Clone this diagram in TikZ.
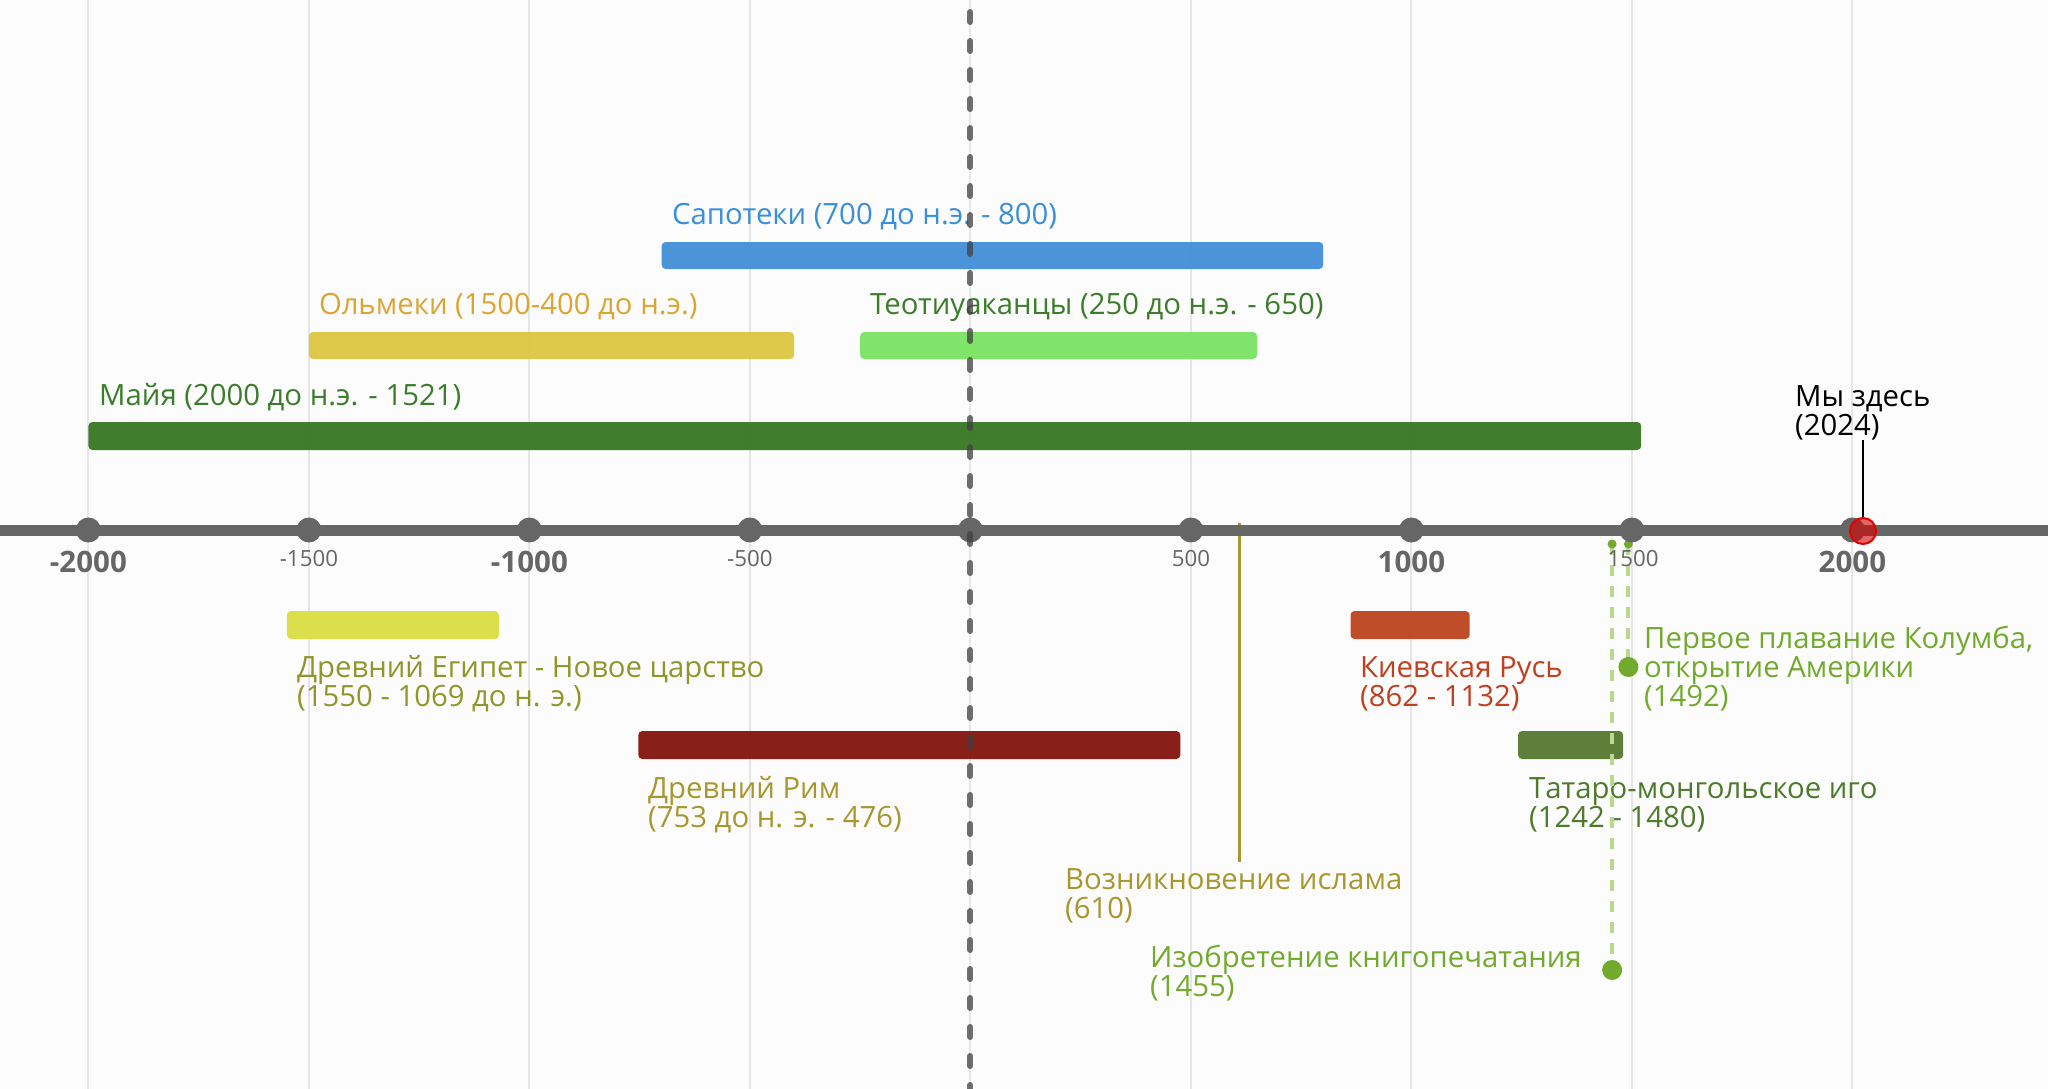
\documentclass[tikz,border=0pt]{standalone}
\usepackage{fontspec}
\setmainfont{Open Sans}
\definecolor{bgc}{HTML}{FCFCFC}
\definecolor{gridc}{HTML}{E6E6E6}
\definecolor{axisc}{HTML}{666666}
\definecolor{zapb}{HTML}{4791D8}\definecolor{zapt}{HTML}{3B8FD9}
\definecolor{olmb}{HTML}{DCC744}\definecolor{olmt}{HTML}{DBA534}
\definecolor{teob}{HTML}{7CE466}\definecolor{teot}{HTML}{3B7D2A}
\definecolor{mayb}{HTML}{3A7A28}\definecolor{mayt}{HTML}{3A7D2A}
\definecolor{egyb}{HTML}{DADF47}\definecolor{egyt}{HTML}{8F962A}
\definecolor{romb}{HTML}{861812}\definecolor{romt}{HTML}{A8962E}
\definecolor{rusb}{HTML}{BE4824}\definecolor{rust}{HTML}{C0401F}
\definecolor{tatb}{HTML}{587B33}\definecolor{tatt}{HTML}{4E7A2C}
\definecolor{islc}{HTML}{A8962E}
\definecolor{evc}{HTML}{72AA2E}
\definecolor{evl}{HTML}{BAD98F}
\newcommand{\twoline}[2]{\vtop{\baselineskip=29pt\lineskiplimit=-50pt\hbox{#1}\hbox{#2}}}
\newcommand{\threeline}[3]{\vtop{\baselineskip=29pt\lineskiplimit=-50pt\hbox{#1}\hbox{#2}\hbox{#3}}}
\tikzset{
  bar/.style={rounded corners=4pt, fill opacity=0.97},
  lbl/.style={anchor=base west, inner sep=0pt, font=\fontsize{29.3}{29}\selectfont},
  majlbl/.style={anchor=base, inner sep=0pt, text=axisc, font=\fontsize{29.5}{30}\selectfont\bfseries},
  minlbl/.style={anchor=base, inner sep=0pt, text=axisc, font=\fontsize{22.3}{24}\selectfont},
  tickdot/.style={fill=axisc},
  gridline/.style={gridc, line width=2pt},
  evdash/.style={evl, line width=4pt, dash pattern=on 11pt off 10pt},
}
\begin{document}
\begin{tikzpicture}[x=1pt,y=-1pt]
\useasboundingbox (0,0) rectangle (2048,1089);
\fill[bgc] (0,0) rectangle (2048,1089);
% grid
\foreach \gx in {88.4,308.9,529.4,749.9,970.4,1190.9,1411.4,1631.9,1852.4}
  \draw[gridline] (\gx,0) -- (\gx,1089);
% bars above
\fill[bar, zapb] (661.7,242) rectangle (1323.2,269);
\fill[bar, olmb] (308.9,332) rectangle (794.0,359);
\fill[bar, teob] (860.2,332) rectangle (1257.1,359);
\fill[bar, mayb] (88.4,422) rectangle (1641.2,450);
% bars below
\fill[bar, egyb] (286.9,611) rectangle (499.0,639);
\fill[bar, rusb] (1350.5,611) rectangle (1469.6,639);
\fill[bar, romb] (638.3,731) rectangle (1180.3,759);
\fill[bar, tatb] (1518.1,731) rectangle (1623.1,759);
% labels
\node[lbl, text=zapt] (zap) at (672,224.5) {Сапотеки (700 до н.э. - 800)};
\node[lbl, text=olmt] (olm) at (319,314.5) {Ольмеки (1500-400 до н.э.)};
\node[lbl, text=teot] (teo) at (870,314.5) {Теотиуаканцы (250 до н.э. - 650)};
\node[lbl, text=mayt] (may) at (99,405.5) {Майя (2000 до н.э. - 1521)};
\node[lbl, text=egyt] (egy) at (297,677.5) {\twoline{Древний Египет - Новое царство}{(1550 - 1069 до н. э.)}};
\node[lbl, text=romt] (rom) at (648,798.5) {\twoline{Древний Рим}{(753 до н. э. - 476)}};
\node[lbl, text=rust] (rus) at (1360,677.5) {\twoline{Киевская Русь}{(862 - 1132)}};
\node[lbl, text=tatt] (tat) at (1529,798.5) {\twoline{Татаро-монгольское иго}{(1242 - 1480)}};
% islam
\coordinate (islA) at (1239.4,523);
\coordinate (islB) at (1239.4,862);
\draw[islc, line width=2.5pt] (islA) -- (islB);
\node[lbl, text=islc] (isl) at (1065,889.5) {\twoline{Возникновение ислама}{(610)}};
% events
\coordinate (prA) at (1612.1,544);
\coordinate (prB) at (1612.1,970);
\coordinate (coA) at (1628.4,544);
\coordinate (coB) at (1628.4,667);
\draw[evdash] (prA) -- (prB);
\draw[evdash] (coA) -- (coB);
\fill[evc] (prA) circle (4.5);
\fill[evc] (coA) circle (4.5);
\fill[evc] (prB) circle (10);
\fill[evc] (coB) circle (10);
\node[lbl, text=evc] (col) at (1644,648.5) {\threeline{Первое плавание Колумба,}{открытие Америки}{(1492)}};
\node[lbl, text=evc] (pri) at (1150,967.5) {\twoline{Изобретение книгопечатания}{(1455)}};
% axis
\draw[axisc, line width=11pt] (0,530) -- (2048,530);
\foreach \gx in {88.4,308.9,529.4,749.9,970.4,1190.9,1411.4,1631.9,1852.4}
  \fill[tickdot] (\gx,530) circle (12.5);
\node[majlbl] (t1) at (88.4,572) {-2000};
\node[minlbl] (t2) at (308.9,566) {-1500};
\node[majlbl] (t3) at (529.4,572) {-1000};
\node[minlbl] (t4) at (749.9,566) {-500};
\node[minlbl] (t6) at (1190.9,566) {500};
\node[majlbl] (t7) at (1411.4,572) {1000};
\node[minlbl] (t8) at (1633,566) {1500};
\node[majlbl] (t9) at (1852.4,572) {2000};
% we are here
\coordinate (nowA) at (1863,440);
\node[circle, minimum size=26pt, inner sep=0pt, draw=red!90!black, line width=2pt, fill=red!85!black, fill opacity=0.6] (now) at (1863,531) {};
\draw[black, line width=2pt] (nowA) -- (now.north);
\node[lbl, text=black] (nowl) at (1795,406) {\twoline{Мы здесь}{(2024)}};
% zero dashed line
\coordinate (zA) at (970.4,12);
\coordinate (zB) at (970.4,1089);
\draw[black!75, opacity=0.75, line width=6pt, line cap=round, dash pattern=on 10pt off 19pt] (zA) -- (zB);
\end{tikzpicture}
\end{document}
